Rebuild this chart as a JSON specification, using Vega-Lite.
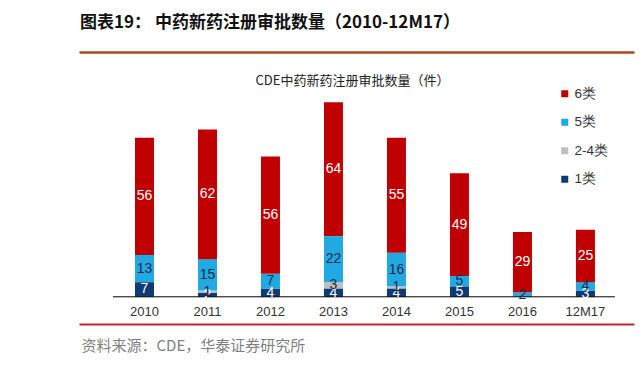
{
  "$schema": "https://vega.github.io/schema/vega-lite/v6.json",
  "width": 555,
  "height": 272,
  "autosize": {"type": "none"},
  "padding": {"left": 79, "top": 52, "right": 10, "bottom": 50},
  "background": "white",
  "config": {"view": {"stroke": null}},
  "title": {
    "text": "图表19：  中药新药注册审批数量（2010-12M17）",
    "anchor": "start",
    "frame": "group",
    "orient": "top",
    "offset": 7,
    "dx": 1,
    "baseline": "alphabetic",
    "font": "Noto Sans CJK SC",
    "fontSize": 17,
    "fontWeight": "bold",
    "color": "#111111"
  },
  "data": {
    "values": [
      {"年份": "2010", "类别": "1类", "数量": 7},
      {"年份": "2010", "类别": "5类", "数量": 13},
      {"年份": "2010", "类别": "6类", "数量": 56},
      {"年份": "2011", "类别": "1类", "数量": 2},
      {"年份": "2011", "类别": "2-4类", "数量": 1},
      {"年份": "2011", "类别": "5类", "数量": 15},
      {"年份": "2011", "类别": "6类", "数量": 62},
      {"年份": "2012", "类别": "1类", "数量": 4},
      {"年份": "2012", "类别": "5类", "数量": 7},
      {"年份": "2012", "类别": "6类", "数量": 56},
      {"年份": "2013", "类别": "1类", "数量": 4},
      {"年份": "2013", "类别": "2-4类", "数量": 3},
      {"年份": "2013", "类别": "5类", "数量": 22},
      {"年份": "2013", "类别": "6类", "数量": 64},
      {"年份": "2014", "类别": "1类", "数量": 4},
      {"年份": "2014", "类别": "2-4类", "数量": 1},
      {"年份": "2014", "类别": "5类", "数量": 16},
      {"年份": "2014", "类别": "6类", "数量": 55},
      {"年份": "2015", "类别": "1类", "数量": 5},
      {"年份": "2015", "类别": "5类", "数量": 5},
      {"年份": "2015", "类别": "6类", "数量": 49},
      {"年份": "2016", "类别": "5类", "数量": 2},
      {"年份": "2016", "类别": "6类", "数量": 29},
      {"年份": "12M17", "类别": "1类", "数量": 3},
      {"年份": "12M17", "类别": "5类", "数量": 4},
      {"年份": "12M17", "类别": "6类", "数量": 25}
    ]
  },
  "layer": [
    {
      "mark": {"type": "bar"},
      "encoding": {
        "x": {
          "field": "年份",
          "type": "nominal",
          "sort": null,
          "scale": {
            "domain": ["2010", "2011", "2012", "2013", "2014", "2015", "2016", "12M17"],
            "paddingInner": 0.698,
            "paddingOuter": 0.754,
            "align": 0.589
          },
          "axis": {
            "orient": "bottom",
            "offset": -27,
            "domain": false,
            "ticks": false,
            "labelPadding": 8,
            "labelAngle": 0,
            "labelFont": "Liberation Sans",
            "labelFontSize": 13,
            "labelColor": "#333333",
            "title": "资料来源：CDE，华泰证券研究所",
            "titleX": 2,
            "titleY": 48,
            "titleAlign": "left",
            "titleBaseline": "middle",
            "titleFont": "Noto Sans CJK SC",
            "titleFontSize": 15,
            "titleFontWeight": "normal",
            "titleColor": "#7F7F7F"
          }
        },
        "y": {
          "field": "数量",
          "type": "quantitative",
          "stack": "zero",
          "scale": {"domain": [-13, 117], "nice": false, "zero": false},
          "axis": {
            "orient": "left",
            "values": [-13, 117],
            "labels": false,
            "ticks": false,
            "domain": false,
            "grid": true,
            "gridColor": {"condition": {"test": "datum.value > 0", "value": "#A64B1E"}, "value": "#C8232C"},
            "gridWidth": {"condition": {"test": "datum.value > 0", "value": 2.5}, "value": 2},
            "title": "CDE中药新药注册审批数量（件）",
            "titleAngle": 0,
            "titleX": 273,
            "titleY": 28,
            "titleAlign": "center",
            "titleBaseline": "middle",
            "titleFont": "Noto Sans CJK SC",
            "titleFontSize": 13,
            "titleFontWeight": "normal",
            "titleColor": "#222222"
          }
        },
        "color": {
          "field": "类别",
          "type": "nominal",
          "scale": {
            "domain": ["6类", "5类", "2-4类", "1类"],
            "range": ["#C00000", "#21A9E1", "#BFBFBF", "#0E3A75"]
          },
          "legend": {
            "orient": "none",
            "legendX": 479,
            "legendY": 35,
            "title": null,
            "padding": 0,
            "symbolType": "square",
            "symbolSize": 49,
            "symbolStrokeWidth": 0,
            "labelFont": "Liberation Sans",
            "labelFontSize": 13.5,
            "labelColor": "#333333",
            "labelOffset": 3,
            "rowPadding": 13.5
          }
        },
        "order": {"field": "类别", "sort": "ascending"}
      }
    },
    {
      "data": {"values": [{}]},
      "mark": {"type": "rule", "color": "#000000", "strokeWidth": 1},
      "encoding": {
        "x": {"datum": "2010", "bandPosition": -1.158},
        "x2": {"datum": "12M17", "bandPosition": 2.05},
        "y": {"datum": 0}
      }
    },
    {
      "mark": {"type": "text", "font": "Liberation Sans", "fontSize": 14, "baseline": "middle"},
      "encoding": {
        "x": {"field": "年份", "type": "nominal"},
        "y": {"field": "数量", "type": "quantitative", "stack": "zero", "bandPosition": 0.5},
        "order": {"field": "类别", "sort": "ascending"},
        "text": {"field": "数量", "type": "quantitative"},
        "color": {
          "condition": {"test": "datum['类别'] === '6类' || datum['类别'] === '1类'", "value": "#FFFFFF"},
          "value": "#1B2A4A"
        }
      }
    }
  ]
}
